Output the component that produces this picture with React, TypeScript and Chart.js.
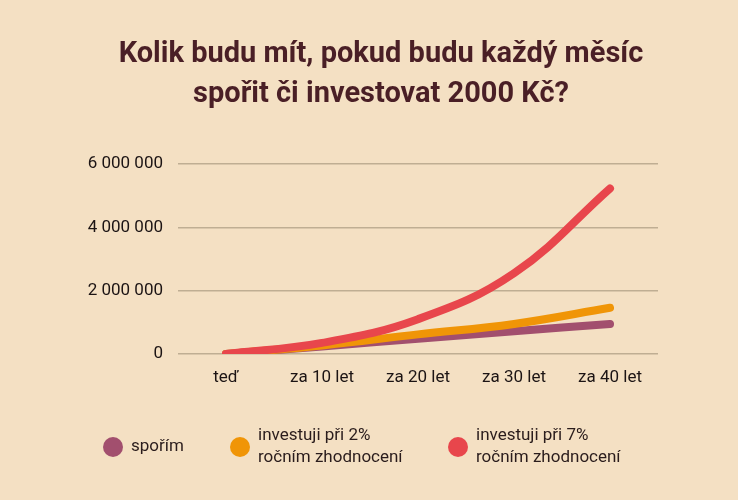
import React, { useEffect, useRef } from "react";
import { Chart, registerables } from "chart.js";

Chart.register(...registerables);

const categories = ["teď", "za 10 let", "za 20 let", "za 30 let", "za 40 let"];
const saving = [0, 240000, 480000, 720000, 950000];
const invest2 = [0, 270000, 620000, 950000, 1460000];
const invest7 = [0, 350000, 1100000, 2550000, 5230000];
const seriesLabels = [["spořím"], ["investuji při 2%", "ročním zhodnocení"], ["investuji při 7%", "ročním zhodnocení"]];
const seriesColors = ["#a24f6e", "#f09507", "#e8464c"];
const titleLines = ["Kolik budu mít, pokud budu každý měsíc", "spořit či investovat 2000 Kč?"];
const yTicks = [0, 2000000, 4000000, 6000000];

const BG = "#f4e0c3";
const TEXT_FONT = "Roboto, 'Noto Sans', sans-serif";
const TITLE_FONT = "Roboto, sans-serif";

const fmt = (v: number) => String(v).replace(/\B(?=(\d{3})+(?!\d))/g, " ");

const overlayPlugin = {
  id: "overlay",
  afterDraw(chart: any) {
    const ctx = chart.ctx;
    ctx.save();
    // title
    ctx.fillStyle = "#4a1f26";
    ctx.font = `bold 29px ${TITLE_FONT}`;
    ctx.textAlign = "center";
    ctx.textBaseline = "middle";
    ctx.fillText(titleLines[0], 381, 55);
    ctx.fillText(titleLines[1], 381, 95);
    // legend
    const xs = [113, 240, 458];
    ctx.font = `17px ${TEXT_FONT}`;
    ctx.textAlign = "left";
    chart.data.datasets.forEach((ds: any, i: number) => {
      ctx.fillStyle = ds.borderColor;
      ctx.beginPath();
      ctx.arc(xs[i], 447, 10, 0, Math.PI * 2);
      ctx.fill();
      ctx.fillStyle = "#2a1c1c";
      const lines = seriesLabels[i];
      const lh = 22;
      const y0 = 447 - ((lines.length - 1) * lh) / 2;
      lines.forEach((t, j) => ctx.fillText(t, xs[i] + 18, y0 + j * lh));
    });
    ctx.restore();
  },
};

export default function App() {
  const ref = useRef<HTMLCanvasElement>(null);
  useEffect(() => {
    document.body.style.margin = "0";
    const mk = (label: string, data: number[], color: string, order: number) => ({
      label,
      data,
      borderColor: color,
      backgroundColor: color,
      borderWidth: 8,
      borderCapStyle: "round" as const,
      borderJoinStyle: "round" as const,
      pointRadius: 0,
      tension: 0.4,
      fill: false,
      order,
    });
    const chart = new Chart(ref.current!, {
      type: "line",
      data: {
        labels: categories,
        datasets: [
          mk(seriesLabels[0].join(" "), saving, seriesColors[0], 2),
          mk(seriesLabels[1].join(" "), invest2, seriesColors[1], 1),
          mk(seriesLabels[2].join(" "), invest7, seriesColors[2], 0),
        ],
      },
      options: {
        responsive: false,
        animation: false,
        layout: { padding: { top: 164, left: 0, right: 80, bottom: 0 } },
        plugins: { legend: { display: false }, title: { display: false }, tooltip: { enabled: false } },
        scales: {
          x: {
            offset: true,
            grid: { display: false, drawTicks: false },
            border: { display: false },
            ticks: { color: "#1c1414", font: { family: TEXT_FONT, size: 17 }, padding: 14, maxRotation: 0 },
            afterFit: (s: any) => { s.height = 146; },
          },
          y: {
            min: 0,
            max: 6000000,
            afterBuildTicks: (s: any) => { s.ticks = yTicks.map((v) => ({ value: v })); },
            grid: { color: "#bfae93", lineWidth: 1.5, drawTicks: false },
            border: { display: false },
            ticks: { color: "#1c1414", font: { family: TEXT_FONT, size: 17 }, padding: 15, callback: (v: any) => fmt(Number(v)) },
            afterFit: (s: any) => { s.width = 178; },
          },
        },
      },
      plugins: [overlayPlugin],
    });
    return () => chart.destroy();
  }, []);
  return (
    <div style={{ width: 738, height: 500, background: BG }}>
      <canvas ref={ref} width={738} height={500} style={{ display: "block" }} />
    </div>
  );
}
